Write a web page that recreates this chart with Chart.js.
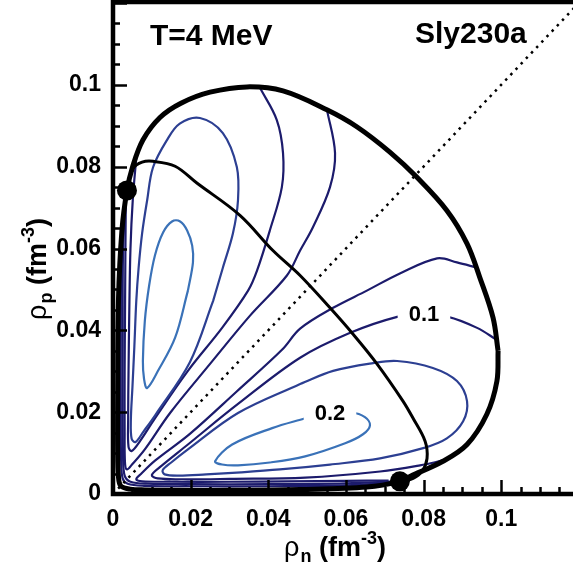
<!DOCTYPE html>
<html lang="en">
<head>
<meta charset="UTF-8">
<title>Sly230a spinodal</title>
<style>
  *{margin:0;padding:0;}
  body{width:573px;height:572px;background:#fff;overflow:hidden;}
</style>
</head>
<body>
<canvas id="chart" width="573" height="572"></canvas>
<script src="https://cdn.jsdelivr.net/npm/chart.js@4.4.0/dist/chart.umd.min.js"></script>
<script>
// axes
const X_MAX = 0.1185;
const Y_MAX = 0.12;
const xTickVals = [0, 0.02, 0.04, 0.06, 0.08, 0.1];
const yTickVals = [0, 0.02, 0.04, 0.06, 0.08, 0.1];
const minorStep = 0.005;

// thick black spinodal (closed)
const spinodal = [
  [0.0992,0.0350],[0.0979,0.0431],[0.0945,0.0529],[0.0912,0.0612],[0.0860,0.0693],[0.0783,0.0774],
  [0.0714,0.0835],[0.0629,0.0897],[0.0551,0.0939],[0.0438,0.0985],[0.0345,0.0995],[0.0250,0.0982],
  [0.0175,0.0955],[0.0121,0.0920],[0.0077,0.0865],[0.0050,0.0798],[0.0036,0.0742],[0.0023,0.0644],
  [0.0014,0.0472],[0.0012,0.0227],[0.0012,0.0104],[0.0014,0.0043],[0.0020,0.0020],[0.0044,0.0012],
  [0.0082,0.0010],[0.0173,0.0009],[0.0301,0.0009],[0.0482,0.0011],[0.0654,0.0017],[0.0739,0.0031],
  [0.0765,0.0043],[0.0850,0.0080],[0.0912,0.0121],[0.0963,0.0195],[0.0989,0.0276],[0.0992,0.0350]
];

// thin black curve
const crossLine = [
  [0.0036,0.0750],[0.0052,0.0796],[0.0075,0.0811],[0.0103,0.0813],[0.0160,0.0801],[0.0216,0.0760],
  [0.0327,0.0681],[0.0412,0.0595],[0.0482,0.0534],[0.0559,0.0455],[0.0618,0.0391],[0.0680,0.0318],
  [0.0747,0.0227],[0.0773,0.0185],[0.0804,0.0129],[0.0809,0.0087],[0.0796,0.0055],[0.0773,0.0038],
  [0.0745,0.0031]
];

// contours, proton-rich side
const lobeP1 = [
  [0.0193,0.0497],[0.0206,0.0566],[0.0204,0.0607],[0.0191,0.0644],[0.0173,0.0666],[0.0152,0.0666],
  [0.0129,0.0639],[0.0108,0.0583],[0.0093,0.0509],[0.0082,0.0423],[0.0077,0.0325],[0.0080,0.0281],
  [0.0088,0.0259],[0.0116,0.0301],[0.0160,0.0382],[0.0193,0.0497]
];
const lobeP2 = [
  [0.0258,0.0472],[0.0283,0.0553],[0.0309,0.0637],[0.0322,0.0718],[0.0319,0.0799],[0.0283,0.0882],
  [0.0224,0.0919],[0.0172,0.0905],[0.0139,0.0865],[0.0103,0.0798],[0.0088,0.0718],[0.0075,0.0637],
  [0.0066,0.0553],[0.0060,0.0472],[0.0055,0.0360],[0.0050,0.0260],[0.0046,0.0180],[0.0048,0.0135],
  [0.0058,0.0127],[0.0078,0.0152],[0.0109,0.0193],[0.0198,0.0322],[0.0258,0.0472]
];
const openP3 = [
  [0.0379,0.0992],[0.0422,0.0914],[0.0438,0.0833],[0.0435,0.0750],[0.0404,0.0644],[0.0371,0.0546],
  [0.0348,0.0497],[0.0281,0.0406],[0.0193,0.0301],[0.0108,0.0185],[0.0070,0.0130],[0.0048,0.0105],
  [0.0040,0.0115],[0.0039,0.0180],[0.0040,0.0300],[0.0042,0.0450],[0.0045,0.0600],[0.0051,0.0720],
  [0.0060,0.0822]
];
const openP4 = [
  [0.0551,0.0940],[0.0572,0.0833],[0.0559,0.0750],[0.0515,0.0652],[0.0482,0.0595],[0.0448,0.0534],
  [0.0353,0.0436],[0.0250,0.0318],[0.0147,0.0198],[0.0082,0.0109],[0.0049,0.0072],[0.0036,0.0060],
  [0.0031,0.0075],[0.0030,0.0150],[0.0030,0.0300],[0.0031,0.0450],[0.0032,0.0600],[0.0033,0.0710]
];

// contours, neutron-rich side
const lobeN1 = [
  [0.0495,0.0185],[0.0616,0.0198],[0.0649,0.0188],[0.0662,0.0168],[0.0644,0.0146],[0.0598,0.0124],
  [0.0495,0.0092],[0.0404,0.0077],[0.0322,0.0070],[0.0281,0.0072],[0.0263,0.0080],[0.0307,0.0121],
  [0.0410,0.0161],[0.0495,0.0185]
];
const lobeN2 = [
  [0.0482,0.0269],[0.0567,0.0301],[0.0670,0.0320],[0.0732,0.0325],[0.0824,0.0308],[0.0886,0.0276],
  [0.0912,0.0227],[0.0902,0.0178],[0.0860,0.0136],[0.0799,0.0112],[0.0688,0.0087],[0.0559,0.0072],
  [0.0430,0.0060],[0.0330,0.0053],[0.0240,0.0048],[0.0170,0.0045],[0.0133,0.0048],[0.0128,0.0058],
  [0.0150,0.0077],[0.0193,0.0109],[0.0322,0.0198],[0.0482,0.0269]
];
const openN3 = [
  [0.0988,0.0377],[0.0938,0.0406],[0.0863,0.0433],[0.0790,0.0438],[0.0732,0.0433],[0.0611,0.0394],
  [0.0482,0.0333],[0.0322,0.0220],[0.0193,0.0121],[0.0120,0.0065],[0.0100,0.0046],[0.0115,0.0038],
  [0.0180,0.0036],[0.0300,0.0037],[0.0495,0.0040],[0.0688,0.0055],[0.0791,0.0070],[0.0850,0.0082]
];
const openN4 = [
  [0.0938,0.0553],[0.0886,0.0566],[0.0835,0.0576],[0.0739,0.0539],[0.0654,0.0497],[0.0567,0.0455],
  [0.0482,0.0404],[0.0436,0.0353],[0.0318,0.0250],[0.0198,0.0147],[0.0109,0.0082],[0.0072,0.0049],
  [0.0060,0.0036],[0.0075,0.0031],[0.0150,0.0030],[0.0300,0.0030],[0.0450,0.0031],[0.0600,0.0032],
  [0.0710,0.0033]
];

// dense contours hugging the boundary
const edgeA = [
  [0.0030,0.0720],[0.0022,0.0600],[0.0020,0.0400],[0.0020,0.0200],[0.0021,0.0080],[0.0025,0.0038],
  [0.0038,0.0025],[0.0080,0.0020],[0.0200,0.0019],[0.0400,0.0019],[0.0600,0.0021],[0.0720,0.0028]
];
const edgeB = [
  [0.0033,0.0728],[0.0026,0.0600],[0.0025,0.0400],[0.0025,0.0200],[0.0026,0.0090],[0.0030,0.0045],
  [0.0045,0.0030],[0.0090,0.0025],[0.0200,0.0024],[0.0400,0.0024],[0.0600,0.0026],[0.0725,0.0031]
];

const diagonal = [[0, 0], [0.12, 0.12]];
const dots = [[0.0036, 0.0742], [0.0739, 0.0031]];
const contourLabels = [
  {text: '0.1', x: 0.0801, y: 0.0441},
  {text: '0.2', x: 0.0559, y: 0.0197}
];

const NAVY = '#1c1b6c';
const MID = '#2c3f92';
const LIGHT = '#3a72b8';

function pts(a) {
  return a.map(p => ({x: p[0], y: p[1]}));
}
function curve(data, color, width, order, extra) {
  return Object.assign({
    data: pts(data), showLine: true, borderColor: color, borderWidth: width,
    pointRadius: 0, tension: 0.35, fill: false, order: order
  }, extra || {});
}

const FONT = 'Arial, "Liberation Sans", sans-serif';

function drawRich(ctx, parts, cx, baseline) {
  let w = 0;
  parts.forEach(p => { ctx.font = p.font; w += ctx.measureText(p.t).width + (p.gap || 0); });
  let x = cx - w / 2;
  ctx.textAlign = 'left';
  ctx.textBaseline = 'alphabetic';
  parts.forEach(p => {
    ctx.font = p.font;
    ctx.fillText(p.t, x, baseline + (p.dy || 0));
    x += ctx.measureText(p.t).width + (p.gap || 0);
  });
}

function titleParts(sub) {
  return [
    {t: 'ρ', font: '27px ' + FONT, gap: 1},
    {t: sub, font: 'bold 18px ' + FONT, dy: 6},
    {t: ' (fm', font: 'bold 27px ' + FONT},
    {t: '-3', font: 'bold 18px ' + FONT, dy: -12},
    {t: ')', font: 'bold 27px ' + FONT}
  ];
}

const decor = {
  id: 'decor',
  afterDatasetsDraw(chart) {
    const {ctx, scales: {x, y}} = chart;
    ctx.save();
    ctx.font = 'bold 22px ' + FONT;
    ctx.textAlign = 'center';
    ctx.textBaseline = 'middle';
    contourLabels.forEach(l => {
      const px = x.getPixelForValue(l.x), py = y.getPixelForValue(l.y);
      const w = ctx.measureText(l.text).width;
      ctx.fillStyle = '#fff';
      ctx.fillRect(px - w / 2 - 11, py - 9, w + 22, 18);
      ctx.fillStyle = '#000';
      ctx.fillText(l.text, px, py + 1);
    });
    ctx.restore();
  },
  afterDraw(chart) {
    const {ctx, chartArea: a, scales: {x, y}} = chart;
    ctx.save();
    ctx.strokeStyle = '#000';
    ctx.lineWidth = 2.5;
    // inside ticks
    for (let i = 0; i * minorStep <= X_MAX + 1e-9; i++) {
      const v = i * minorStep;
      const major = i % 4 === 0;
      const px = Math.round(x.getPixelForValue(v)) + 0.5;
      ctx.beginPath();
      ctx.moveTo(px, a.bottom);
      ctx.lineTo(px, a.bottom - (major ? 14 : 7));
      ctx.stroke();
    }
    for (let i = 0; i * minorStep <= Y_MAX + 1e-9; i++) {
      const v = i * minorStep;
      const major = i % 4 === 0;
      const py = Math.round(y.getPixelForValue(v)) + 0.5;
      ctx.beginPath();
      ctx.moveTo(a.left, py);
      ctx.lineTo(a.left + (major ? 14 : 7), py);
      ctx.stroke();
    }
    // frame: left, bottom, top
    ctx.lineWidth = 4.5;
    ctx.beginPath();
    ctx.moveTo(a.left, 0);
    ctx.lineTo(a.left, a.bottom + 2.25);
    ctx.moveTo(a.left - 2.25, a.bottom);
    ctx.lineTo(chart.width, a.bottom);
    ctx.moveTo(a.left - 2.25, 2);
    ctx.lineTo(chart.width, 2);
    ctx.stroke();

    // in-plot texts
    ctx.fillStyle = '#000';
    ctx.font = 'bold 30px ' + FONT;
    ctx.textAlign = 'left';
    ctx.textBaseline = 'alphabetic';
    ctx.fillText('T=4 MeV', 150, 45);
    ctx.fillText('Sly230a', 415, 43);

    // axis titles
    drawRich(ctx, titleParts('n'), 335, 556);
    ctx.save();
    ctx.translate(46, 269);
    ctx.rotate(-Math.PI / 2);
    drawRich(ctx, titleParts('p'), 0, 0);
    ctx.restore();
    ctx.restore();
  }
};

function tickLabel(v) {
  return String(parseFloat(v.toFixed(2)));
}

new Chart(document.getElementById('chart'), {
  type: 'scatter',
  data: {
    datasets: [
      curve(dots, '#000', 0, 0, {showLine: false, pointRadius: 10, pointBackgroundColor: '#000', pointBorderWidth: 0}),
      curve(spinodal, '#000', 5, 1),
      curve(crossLine, '#000', 3, 2),
      curve(diagonal, '#000', 2.5, 3, {tension: 0, borderDash: [2.5, 5]}),
      curve(lobeP1, LIGHT, 2.2, 5),
      curve(lobeN1, LIGHT, 2.2, 5),
      curve(lobeP2, MID, 2.2, 5),
      curve(lobeN2, MID, 2.2, 5),
      curve(openP3, NAVY, 2.2, 5),
      curve(openN3, NAVY, 2.2, 5),
      curve(openP4, NAVY, 2.2, 5),
      curve(openN4, NAVY, 2.2, 5),
      curve(edgeA, NAVY, 2.2, 6),
      curve(edgeB, NAVY, 2.2, 6)
    ]
  },
  options: {
    responsive: false,
    animation: false,
    devicePixelRatio: 1,
    layout: {autoPadding: false, padding: {top: 3, right: 0, left: 0, bottom: 0}},
    plugins: {legend: {display: false}, tooltip: {enabled: false}},
    scales: {
      x: {
        type: 'linear', min: 0, max: X_MAX,
        grid: {display: false}, border: {display: false},
        afterBuildTicks: s => { s.ticks = xTickVals.map(v => ({value: v})); },
        afterFit: s => { s.height = 78; s.paddingLeft = 0; s.paddingRight = 0; },
        ticks: {
          autoSkip: false, maxRotation: 0, padding: 4, color: '#000',
          font: {family: FONT, size: 23, weight: 'bold'},
          callback: v => tickLabel(v)
        }
      },
      y: {
        type: 'linear', min: 0, max: Y_MAX,
        grid: {display: false}, border: {display: false},
        afterBuildTicks: s => { s.ticks = yTickVals.map(v => ({value: v})); },
        afterFit: s => { s.width = 113; s.paddingTop = 0; s.paddingBottom = 0; },
        ticks: {
          autoSkip: false, padding: 4, color: '#000',
          font: {family: FONT, size: 23, weight: 'bold'},
          callback: v => tickLabel(v)
        }
      }
    }
  },
  plugins: [decor]
});
</script>
</body>
</html>
